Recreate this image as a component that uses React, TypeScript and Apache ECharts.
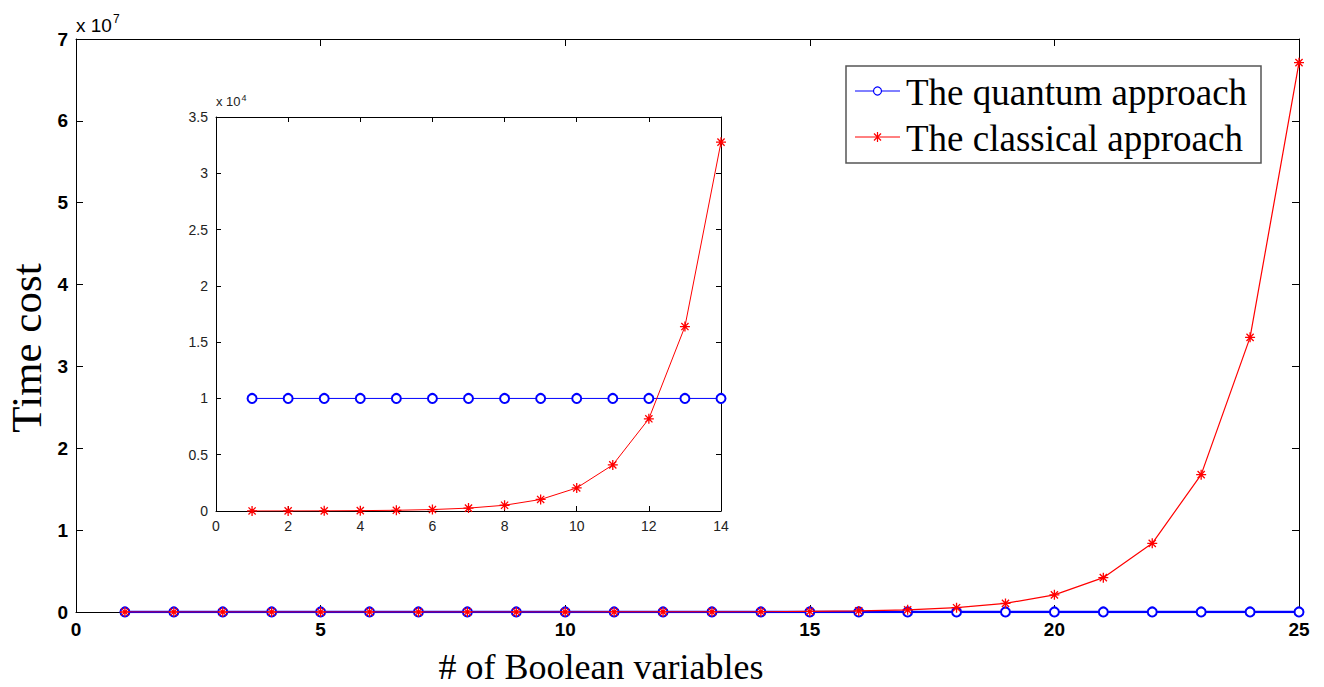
import React, { useEffect, useRef } from "react";
import * as echarts from "echarts";

const nVars = [1,2,3,4,5,6,7,8,9,10,11,12,13,14,15,16,17,18,19,20,21,22,23,24,25];
const quantumCost = [10000,10000,10000,10000,10000,10000,10000,10000,10000,10000,10000,10000,10000,10000,10000,10000,10000,10000,10000,10000,10000,10000,10000,10000,10000];
const classicalCost = [4,8,16,32,64,128,256,512,1024,2048,4096,8192,16384,32768,65536,131072,262144,524288,1048576,2097152,4194304,8388608,16777216,33554432,67108864];
const insetCount = 14;
const legendNames = ["The quantum approach", "The classical approach"];
const xTitle = "# of Boolean variables";
const yTitle = "Time cost";

const BLUE = "#0000ff";
const RED = "#ff0000";
const STAR = "path://M0,-5L0,5M-5,0L5,0M-3.6,-3.6L3.6,3.6M-3.6,3.6L3.6,-3.6";
const SERIF = "'Liberation Serif', 'Times New Roman', serif";
const SANS = "'Liberation Sans', Arial, sans-serif";

function pairs(ys: number[], n: number) {
  return nVars.slice(0, n).map((x, i) => [x, ys[i]]);
}

export default function App() {
  const ref = useRef<HTMLDivElement>(null);
  useEffect(() => {
    const chart = echarts.init(ref.current!, null, { renderer: "svg" });
    const mainLabel = { color: "#000", fontFamily: SANS, fontSize: 19, fontWeight: "bold" as const };
    const insetLabel = { color: "#222", fontFamily: SANS, fontSize: 14 };
    const tickIn = (len: number) => ({ show: true, inside: true, length: len, lineStyle: { color: "#000", width: 1 } });
    const mk = (gridIndex: number, position: string, min: number, max: number, interval: number, label: any, fmt: ((v: number) => string) | null, tlen: number) => ({
      type: "value",
      gridIndex,
      position,
      min,
      max,
      interval,
      axisLine: { show: true, onZero: false, lineStyle: { color: "#000", width: 1 } },
      axisTick: tickIn(tlen),
      splitLine: { show: false },
      axisLabel: fmt ? { ...label, formatter: fmt, margin: 8 } : { show: false },
    });
    chart.setOption({
      animation: false,
      backgroundColor: "#fff",
      grid: [
        { left: 76, top: 39, width: 1223, height: 573, containLabel: false },
        { left: 216, top: 117, width: 505, height: 394, show: true, backgroundColor: "#fff", borderWidth: 0, z: 5 },
      ],
      xAxis: [
        mk(0, "bottom", 0, 25, 5, mainLabel, (v) => String(v), 7),
        mk(0, "top", 0, 25, 5, mainLabel, null, 7),
        { ...mk(1, "bottom", 0, 14, 2, insetLabel, (v) => String(v), 5), z: 6 },
        { ...mk(1, "top", 0, 14, 2, insetLabel, null, 5), z: 6 },
      ],
      yAxis: [
        mk(0, "left", 0, 70000000, 10000000, mainLabel, (v) => String(v / 10000000), 7),
        mk(0, "right", 0, 70000000, 10000000, mainLabel, null, 7),
        { ...mk(1, "left", 0, 35000, 5000, insetLabel, (v) => String(v / 10000), 5), z: 6 },
        { ...mk(1, "right", 0, 35000, 5000, insetLabel, null, 5), z: 6 },
      ],
      series: [
        {
          type: "line", xAxisIndex: 0, yAxisIndex: 0, data: pairs(quantumCost, 25),
          symbol: "emptyCircle", symbolSize: 9, color: BLUE,
          lineStyle: { color: BLUE, width: 2.5 }, itemStyle: { color: BLUE, borderColor: BLUE, borderWidth: 1.2 }, z: 2,
        },
        {
          type: "line", xAxisIndex: 0, yAxisIndex: 0, data: pairs(classicalCost, 25),
          symbol: STAR, symbolSize: 10, color: RED,
          lineStyle: { color: RED, width: 1.2 }, itemStyle: { color: RED, borderColor: RED, borderWidth: 1.3 }, z: 3,
        },
        {
          type: "line", xAxisIndex: 2, yAxisIndex: 2, data: pairs(quantumCost, insetCount),
          symbol: "emptyCircle", symbolSize: 9, color: BLUE, z: 7,
          lineStyle: { color: BLUE, width: 1 }, itemStyle: { color: BLUE, borderColor: BLUE, borderWidth: 1.2 },
        },
        {
          type: "line", xAxisIndex: 2, yAxisIndex: 2, data: pairs(classicalCost, insetCount),
          symbol: STAR, symbolSize: 10, color: RED, z: 8,
          lineStyle: { color: RED, width: 1 }, itemStyle: { color: RED, borderColor: RED, borderWidth: 1.3 },
        },
      ],
      graphic: [
        {
          type: "text", left: 76, top: 13, z: 10,
          style: {
            text: "x 10{s|7}", fontFamily: SANS, fontSize: 19, fill: "#000",
            rich: { s: { fontSize: 12, verticalAlign: "top", padding: [0, 0, 12, 1], fontFamily: SANS } },
          },
        },
        {
          type: "text", left: 216, top: 93, z: 20,
          style: {
            text: "x 10{s|4}", fontFamily: SANS, fontSize: 13, fill: "#222",
            rich: { s: { fontSize: 9, verticalAlign: "top", padding: [0, 0, 8, 1], fontFamily: SANS } },
          },
        },
        {
          type: "text", x: 26, y: 348, rotation: Math.PI / 2, z: 10,
          style: { text: yTitle, fontFamily: SERIF, fontSize: 43, fill: "#000", align: "center", verticalAlign: "middle" },
        },
        {
          type: "text", x: 601, y: 667, z: 10,
          style: { text: xTitle, fontFamily: SERIF, fontSize: 36, fill: "#000", align: "center", verticalAlign: "middle" },
        },
        {
          type: "group", z: 30,
          children: [
            { type: "rect", shape: { x: 846, y: 66, width: 415, height: 97 }, style: { fill: "#fff", stroke: "#555", lineWidth: 1.5 } },
            { type: "line", shape: { x1: 855, y1: 91, x2: 900, y2: 91 }, style: { stroke: BLUE, lineWidth: 1 } },
            { type: "circle", shape: { cx: 877.5, cy: 91, r: 4 }, style: { fill: "#fff", stroke: BLUE, lineWidth: 1.2 } },
            { type: "text", x: 906, y: 92, style: { text: legendNames[0], fontFamily: SERIF, fontSize: 37, fill: "#000", verticalAlign: "middle" } },
            { type: "line", shape: { x1: 855, y1: 137, x2: 900, y2: 137 }, style: { stroke: RED, lineWidth: 1 } },
            { type: "line", shape: { x1: 877.5, y1: 132, x2: 877.5, y2: 142 }, style: { stroke: RED, lineWidth: 1.2 } },
            { type: "line", shape: { x1: 874, y1: 133.5, x2: 881, y2: 140.5 }, style: { stroke: RED, lineWidth: 1.2 } },
            { type: "line", shape: { x1: 874, y1: 140.5, x2: 881, y2: 133.5 }, style: { stroke: RED, lineWidth: 1.2 } },
            { type: "text", x: 906, y: 138, style: { text: legendNames[1], fontFamily: SERIF, fontSize: 37, fill: "#000", verticalAlign: "middle" } },
          ],
        },
      ],
    });
    return () => chart.dispose();
  }, []);
  return <div ref={ref} style={{ position: "fixed", left: 0, top: 0, width: 1324, height: 687 }} />;
}
